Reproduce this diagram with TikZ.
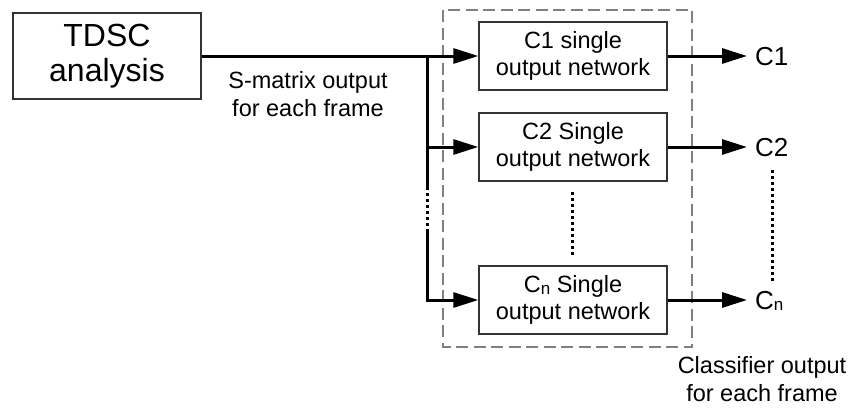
\documentclass[tikz,border=0pt]{standalone}
\usepackage{fontspec}
\setmainfont{Liberation Sans}
\usetikzlibrary{arrows.meta}
\begin{document}
\begin{tikzpicture}[x=1pt,y=-1pt,
  netbox/.style={draw=black!80,line width=1.4pt,minimum width=188pt,minimum height=68pt,inner sep=0pt,align=center,font=\fontsize{23.5}{27}\selectfont},
  flow/.style={line width=3pt,-{Triangle[length=25pt,width=15pt]}},
  plain/.style={line width=3pt},
  dotline/.style={line width=3pt,dash pattern=on 3pt off 3pt},
  outlbl/.style={anchor=west,inner sep=0pt,font=\fontsize{26}{30}\selectfont},
  txt/.style={align=center,inner sep=0pt,font=\fontsize{23.5}{27.5}\selectfont}]
\useasboundingbox (0,0) rectangle (851,415);
\newcommand{\subn}{\raisebox{-1.5pt}{\fontsize{17}{17}\selectfont n}}
% dashed enclosure
\draw[draw=black!50,line width=2.6pt,dash pattern=on 12pt off 5.5pt] (443,10) rectangle (692,347);
% nodes
\node[draw=black!80,line width=1.4pt,minimum width=188pt,minimum height=86pt,inner sep=0pt,align=center,font=\fontsize{32}{35}\selectfont] (tdsc) at (107,56) {TDSC\\analysis};
\node[netbox] (c1) at (573,56) {C1 single\\output network};
\node[netbox] (c2) at (573,147) {C2 Single\\output network};
\node[netbox] (cn) at (573,300) {C\subn\ Single\\output network};
\node[txt] (slbl) at (308,94) {S-matrix output\\for each frame};
\node[outlbl] (o1) at (755,57) {C1};
\node[outlbl] (o2) at (755,148) {C2};
\node[outlbl] (on) at (755,301) {C\subn};
\node[txt] (clbl) at (762,379) {Classifier output\\for each frame};
% junction coordinates
\coordinate (j1) at (427,56);
\coordinate (j2) at (427,147);
\coordinate (j3) at (427,187);
\coordinate (j4) at (427,231);
\coordinate (a1) at (747,56);
\coordinate (a2) at (747,147);
\coordinate (an) at (747,300);
\coordinate (m1) at (572,192);
\coordinate (m2) at (572,257);
\coordinate (r1) at (772,170);
\coordinate (r2) at (772,281);
% connectors
\draw[flow] (tdsc.east) -- (c1.west);
\draw[plain] (j1) -- (j3);
\draw[dotline] (j3) -- (j4);
\draw[flow] (j4) |- (cn.west);
\draw[flow] (j2) -- (c2.west);
\draw[flow] (c1.east) -- (a1);
\draw[flow] (c2.east) -- (a2);
\draw[flow] (cn.east) -- (an);
\draw[dotline] (m1) -- (m2);
\draw[dotline] (r1) -- (r2);
\end{tikzpicture}
\end{document}
